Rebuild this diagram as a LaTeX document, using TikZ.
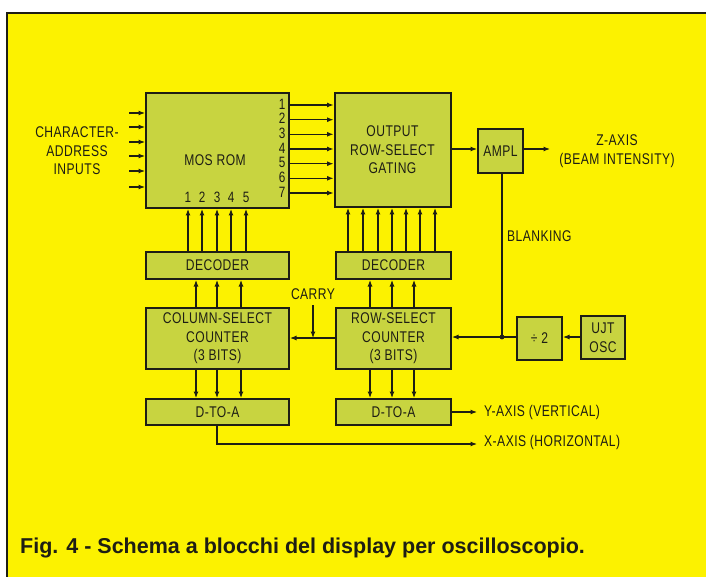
\documentclass[tikz,border=0pt]{standalone}
\usepackage{fontspec}
\setmainfont{Liberation Sans}
\newfontfamily\diagfont[FakeStretch=0.78, LetterSpace=3]{Liberation Sans}
\usetikzlibrary{arrows.meta}
\definecolor{bgyel}{HTML}{FCF200}
\definecolor{boxgrn}{HTML}{C8D440}
\definecolor{ink}{HTML}{1E1E14}
\begin{document}
\begin{tikzpicture}[x=1pt,y=-1pt,
  blk/.style={draw=ink, line width=2pt, fill=boxgrn, inner sep=0pt, text=ink, align=center,
    font=\diagfont\fontsize{15.5}{18.5}\selectfont},
  lbl/.style={inner sep=0pt, text=ink, align=center, font=\diagfont\fontsize{15.5}{18.5}\selectfont},
  num/.style={inner sep=0pt, text=ink, font=\diagfont\fontsize{15}{14}\selectfont},
  arr/.style={draw=ink, line width=1.1pt, -{Latex[length=6.5pt,width=5pt]}},
  ln/.style={draw=ink, line width=1.1pt}]
\useasboundingbox (0,0) rectangle (706,577);
\fill[white] (0,0) rectangle (706,577);
\fill[bgyel] (7,13) rectangle (706,577);
\draw[ink, line width=1.5pt] (7,577) -- (7,13) -- (706,13);

% boxes
\node[blk, minimum width=143pt, minimum height=115pt] (rom) at (217.5,150.5) {};
\node[lbl] (romt) at (215,160) {MOS ROM};
\node[blk, minimum width=116pt, minimum height=114pt] (gate) at (392.5,150) {OUTPUT\\ROW-SELECT\\GATING};
\node[blk, minimum width=45pt, minimum height=44pt] (ampl) at (500.5,151) {AMPL};
\node[blk, minimum width=143pt, minimum height=27pt] (dec1) at (217.5,265.5) {DECODER};
\node[blk, minimum width=115pt, minimum height=27pt] (dec2) at (393.5,265.5) {DECODER};
\node[blk, minimum width=143pt, minimum height=61pt] (cnt1) at (217.5,338.5) {COLUMN-SELECT\\COUNTER\\(3 BITS)};
\node[blk, minimum width=115pt, minimum height=61pt] (cnt2) at (393.5,338.5) {ROW-SELECT\\COUNTER\\(3 BITS)};
\node[blk, minimum width=143pt, minimum height=26pt] (da1) at (217.5,412) {D-TO-A};
\node[blk, minimum width=115pt, minimum height=26pt] (da2) at (393.5,412) {D-TO-A};
\node[blk, minimum width=45pt, minimum height=43pt] (div) at (539.5,338.5) {÷ 2};
\node[blk, minimum width=44pt, minimum height=43pt] (ujt) at (603,337.5) {UJT\\OSC};

% labels
\node[lbl] (chr) at (77,151) {CHARACTER-\\ADDRESS\\INPUTS};
\node[lbl] (zax) at (617,151) {Z-AXIS\\(BEAM INTENSITY)};
\node[lbl, anchor=west] (blank) at (507,236) {BLANKING};
\node[lbl] (carry) at (313,294) {CARRY};
\node[lbl, anchor=west] (yax) at (484,412) {Y-AXIS (VERTICAL)};
\node[lbl, anchor=west] (xax) at (484,442) {X-AXIS (HORIZONTAL)};
\node[anchor=west, inner sep=0pt, text=ink, font=\fontsize{21.5}{24}\selectfont\bfseries] (cap) at (20,548)
  {Fig. 4 - Schema a blocchi del display per oscilloscopio.};

% character address inputs
\foreach \y in {113,127,142,156,171,187} {
  \coordinate (t) at (129,\y);
  \draw[arr] (t) -- (t -| rom.west);
}
% ROM -> gating, numbered 1..7
\foreach \y [count=\i] in {105,119.7,134.3,149,163.7,178.3,193} {
  \coordinate (t) at (0,\y);
  \draw[arr] (t -| rom.east) -- (t -| gate.west);
  \node[num] at (282,\y-1) {\i};
}
% decoder 1 -> ROM, numbered 1..5
\foreach \x [count=\i] in {188,202,217,231,246} {
  \coordinate (t) at (\x,0);
  \draw[arr] (t |- dec1.north) -- (t |- rom.south);
  \node[num] at (\x,197) {\i};
}
% decoder 2 -> gating
\foreach \x in {348,363,378,392,406,420,435} {
  \coordinate (t) at (\x,0);
  \draw[arr] (t |- dec2.north) -- (t |- gate.south);
}
% counters -> decoders and D-to-A
\foreach \x in {196,217,241} {
  \coordinate (t) at (\x,0);
  \draw[arr] (t |- cnt1.north) -- (t |- dec1.south);
  \draw[arr] (t |- cnt1.south) -- (t |- da1.north);
}
\foreach \x in {370,392,414} {
  \coordinate (t) at (\x,0);
  \draw[arr] (t |- cnt2.north) -- (t |- dec2.south);
  \draw[arr] (t |- cnt2.south) -- (t |- da2.north);
}
% gating -> ampl -> Z
\coordinate (g) at (0,149);
\draw[arr] (g -| gate.east) -- (g -| ampl.west);
\coordinate (zend) at (550,149);
\draw[arr] (g -| ampl.east) -- (zend);
% blanking
\coordinate (jn) at (502,337);
\draw[ln] (ampl.south -| jn) -- (jn);
\fill[ink] (jn) circle (2.4pt);
\draw[arr] (ujt.west |- jn) -- (div.east |- jn);
\draw[arr] (div.west |- jn) -- (cnt2.east |- jn);
% carry
\coordinate (cy) at (313,338);
\coordinate (cytop) at (313,305);
\draw[arr] (cnt2.west |- cy) -- (cnt1.east |- cy);
\draw[arr] (cytop) -- (cy);
% outputs
\coordinate (yend) at (477,412);
\draw[arr] (da2.east |- yend) -- (yend);
\coordinate (xc) at (217,444);
\coordinate (xend) at (477,444);
\draw[arr] (da1.south -| xc) -- (xc) -- (xend);
\end{tikzpicture}
\end{document}
